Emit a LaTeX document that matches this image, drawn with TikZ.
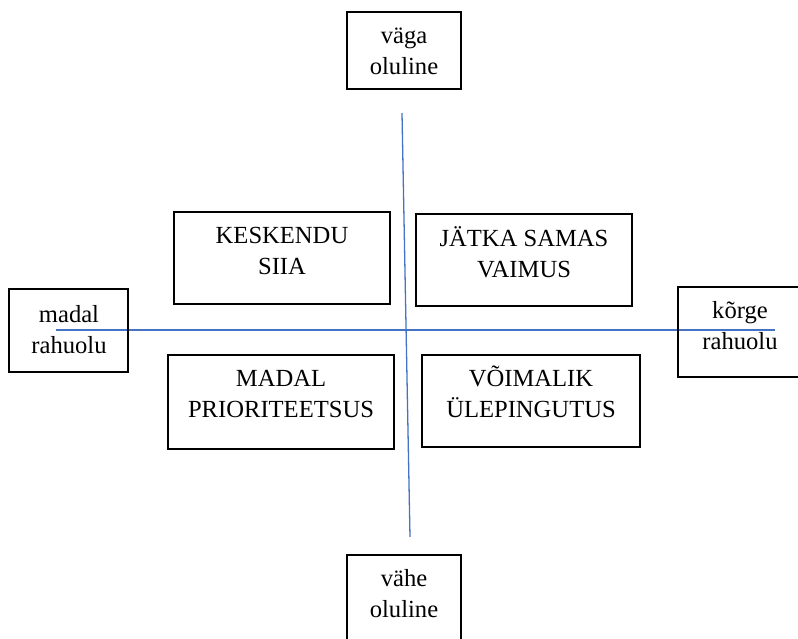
\documentclass[tikz,border=0pt]{standalone}
\usepackage{fontspec}
\setmainfont{Liberation Serif}
\definecolor{axisblue}{HTML}{4472C4}
\begin{document}
\begin{tikzpicture}[x=0.03cm, y=-0.03cm]
      \tikzset{quad/.style 2 args={draw, line width=1.1pt, inner sep=0pt, minimum width=#1*0.03cm, minimum height=#2*0.03cm},
        txt/.style={align=center, anchor=base, inner sep=0pt, font=\fontsize{21}{26}\selectfont},
        axis/.style={draw=axisblue, line width=1.1pt}}
      \useasboundingbox (0,0) rectangle (798,639);
      \coordinate (west) at (56,330);
      \coordinate (east) at (775,330);
      \coordinate (top) at (402,113);
      \coordinate (bottom) at (410,537);
      \draw[axis] (west) -- (east);
      \draw[axis] (top) -- (bottom);
      \node[quad={114}{77}] (vaga) at (404,50.5) {};
      \node[txt] (vagatxt) at (404,74) {väga\\oluline};
      \node[quad={114}{90}] (vahe) at (404,600) {};
      \node[txt] (vahetxt) at (404,617) {vähe\\oluline};
      \node[quad={119}{83}] (madal) at (68.5,330.5) {};
      \node[txt] (madaltxt) at (69,353) {madal\\rahuolu};
      \node[quad={124}{90}] (korge) at (740,332) {};
      \node[txt] (korgetxt) at (740,349) {kõrge\\rahuolu};
      \node[quad={216}{92}] (keskendu) at (282,258) {};
      \node[txt] (keskendutxt) at (282,274) {KESKENDU\\SIIA};
      \node[quad={216}{92}] (jatka) at (524,260) {};
      \node[txt] (jatkatxt) at (524,277) {JÄTKA SAMAS\\VAIMUS};
      \node[quad={226}{94}] (prioriteet) at (281,402) {};
      \node[txt] (prioriteettxt) at (281,417) {MADAL\\PRIORITEETSUS};
      \node[quad={218}{92}] (voimalik) at (531,401) {};
      \node[txt] (voimaliktxt) at (531,417) {VÕIMALIK\\ÜLEPINGUTUS};
\end{tikzpicture}
\end{document}
